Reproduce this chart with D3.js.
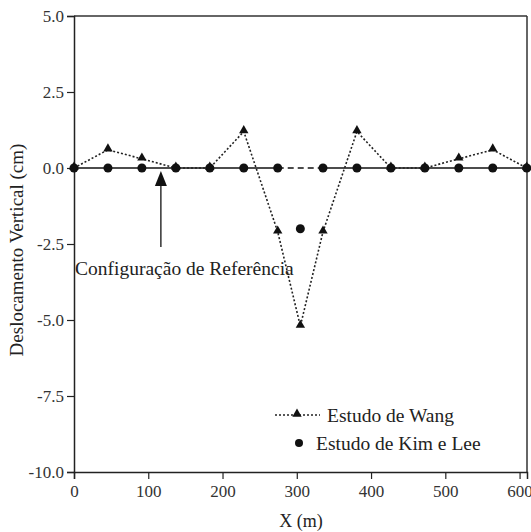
<!DOCTYPE html>
<html>
<head>
<meta charset="utf-8">
<script src="https://cdn.jsdelivr.net/npm/d3@7"></script>
<style>
  body { margin: 0; background: #fff; }
</style>
</head>
<body>
<div id="chart"></div>
<script>
// ------------------------------------
// Data (x positions in metres)
// ------------------------------------
const xPositions = [0, 45.72, 91.44, 137.16, 182.88, 228.6, 274.32, 304.8, 335.28, 381, 426.72, 472.44, 518.16, 563.88, 609.6];
const wangValues = [0, 0.6, 0.3, 0, 0, 1.2, -2.1, -5.2, -2.1, 1.2, 0, 0, 0.3, 0.6, 0];
const kimLeeValues = [0, 0, 0, 0, 0, 0, 0, -2.0, 0, 0, 0, 0, 0, 0, 0];
const referenceSolid = [[0, 274.32], [335.28, 609.6]];
const referenceDashed = [274.32, 335.28];
const arrowX = 117;

const yTicks = [5.0, 2.5, 0.0, -2.5, -5.0, -7.5, -10.0];
const xTicks = [0, 100, 200, 300, 400, 500, 600];

const width = 531, height = 532;
const margin = { top: 16, right: 4, bottom: 60, left: 74 };
const FONT = "Liberation Serif";

const svg = d3.select("#chart").append("svg")
  .attr("width", width)
  .attr("height", height)
  .style("font-family", FONT);

const x = d3.scaleLinear().domain([0, 610]).range([margin.left, width - margin.right]);
const y = d3.scaleLinear().domain([-10, 5]).range([height - margin.bottom, margin.top]);

function label(sel, size) {
  return sel.attr("font-family", FONT).style("font-family", FONT)
    .attr("font-size", size).attr("fill", "#222");
}

// ------------------------------------
// Frame (top + right)
// ------------------------------------
svg.append("line")
  .attr("x1", x(0)).attr("x2", x(610))
  .attr("y1", y(5)).attr("y2", y(5))
  .attr("stroke", "#333").attr("stroke-width", 1.5);
svg.append("line")
  .attr("x1", x(610)).attr("x2", x(610))
  .attr("y1", y(5)).attr("y2", y(-10))
  .attr("stroke", "#333").attr("stroke-width", 1.5);

// Axes
const yAxis = svg.append("g")
  .attr("transform", `translate(${x(0)},0)`)
  .call(d3.axisLeft(y).tickValues(yTicks).tickSize(7).tickPadding(3));

const xAxis = svg.append("g")
  .attr("transform", `translate(0,${y(-10)})`)
  .call(d3.axisBottom(x).tickValues(xTicks).tickFormat(d3.format("d")).tickSize(7).tickPadding(6));

[yAxis, xAxis].forEach(g => {
  g.attr("font-family", FONT).attr("font-size", 17);
  g.select(".domain").attr("stroke", "#222").attr("stroke-width", 1.5);
  g.selectAll(".tick line").attr("stroke", "#222").attr("stroke-width", 1.2);
  label(g.selectAll(".tick text"), 17).attr("fill", "#333");
});
// hyphen minus like the source
yAxis.selectAll(".tick text").text(d => d.toFixed(1));

// ------------------------------------
// Reference configuration (y = 0)
// ------------------------------------
referenceSolid.forEach(([a, b]) => {
  svg.append("line")
    .attr("x1", x(a)).attr("x2", x(b))
    .attr("y1", y(0)).attr("y2", y(0))
    .attr("stroke", "#111").attr("stroke-width", 1.5);
});
svg.append("line")
  .attr("x1", x(referenceDashed[0])).attr("x2", x(referenceDashed[1]))
  .attr("y1", y(0)).attr("y2", y(0))
  .attr("stroke", "#111").attr("stroke-width", 1.5)
  .attr("stroke-dasharray", "6,4");

// ------------------------------------
// Wang series
// ------------------------------------
const wang = xPositions.map((d, i) => ({ x: d, y: wangValues[i] }));
const kim = xPositions.map((d, i) => ({ x: d, y: kimLeeValues[i] }));

svg.append("path")
  .datum(wang)
  .attr("fill", "none")
  .attr("stroke", "#222")
  .attr("stroke-width", 1.6)
  .attr("stroke-dasharray", "2,2")
  .attr("d", d3.line().x(d => x(d.x)).y(d => y(d.y)));

const tri = d3.symbol().type(d3.symbolTriangle).size(38);
svg.selectAll(".tri")
  .data(wang)
  .join("path")
  .attr("transform", d => `translate(${x(d.x)},${y(d.y) - 1})`)
  .attr("d", tri)
  .attr("fill", "#111");

// Kim e Lee
svg.selectAll(".dot")
  .data(kim)
  .join("circle")
  .attr("cx", d => x(d.x))
  .attr("cy", d => y(d.y))
  .attr("r", 4.5)
  .attr("fill", "#111");

// ------------------------------------
// Arrow + annotation
// ------------------------------------
svg.append("line")
  .attr("x1", x(arrowX)).attr("x2", x(arrowX))
  .attr("y1", y(-2.6)).attr("y2", y(-0.5))
  .attr("stroke", "#111").attr("stroke-width", 1.3);
svg.append("path")
  .attr("d", d3.line()([
    [x(arrowX), y(0) + 3],
    [x(arrowX) - 6, y(0) + 18],
    [x(arrowX) + 6, y(0) + 18]
  ]) + "Z")
  .attr("fill", "#111");
label(svg.append("text"), 19.5)
  .attr("x", 75).attr("y", 275)
  .text("Configuração de Referência");

// ------------------------------------
// Legend
// ------------------------------------
svg.append("line")
  .attr("x1", 275).attr("x2", 320)
  .attr("y1", 415).attr("y2", 415)
  .attr("stroke", "#222").attr("stroke-width", 1.6)
  .attr("stroke-dasharray", "2,2");
svg.append("path")
  .attr("transform", "translate(297,414)")
  .attr("d", tri)
  .attr("fill", "#111");
label(svg.append("text"), 19.5)
  .attr("x", 327).attr("y", 422)
  .text("Estudo de Wang");
svg.append("circle")
  .attr("cx", 299).attr("cy", 443).attr("r", 4)
  .attr("fill", "#111");
label(svg.append("text"), 19.5)
  .attr("x", 316).attr("y", 450)
  .text("Estudo de Kim e Lee");

// ------------------------------------
// Axis labels
// ------------------------------------
label(svg.append("text"), 18)
  .attr("x", 301).attr("y", 527)
  .attr("text-anchor", "middle")
  .text("X (m)");

label(svg.append("text"), 19)
  .attr("transform", "rotate(-90)")
  .attr("x", -250)
  .attr("y", 23)
  .attr("text-anchor", "middle")
  .text("Deslocamento Vertical (cm)");
</script>
</body>
</html>
